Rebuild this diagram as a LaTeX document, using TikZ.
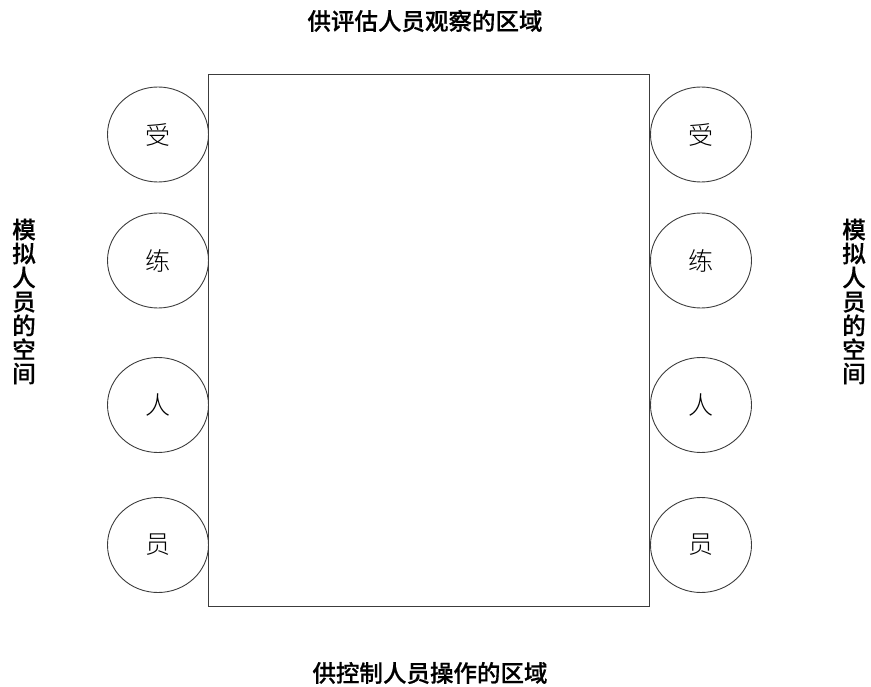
\documentclass[tikz,border=0pt]{standalone}
\usepackage{fontspec}
\newfontfamily\cjkm[FakeBold=0.5]{Noto Sans CJK SC Medium}
\newfontfamily\cjkl{Noto Sans CJK SC Light}
\usetikzlibrary{shapes.geometric}
\definecolor{linec}{RGB}{60,60,60}
\tikzset{
  seat/.style={ellipse, draw=linec, line width=0.9pt, minimum width=101pt, minimum height=95pt, inner sep=0pt, font=\cjkl\fontsize{25}{25}\selectfont},
  title/.style={font=\cjkm\fontsize{23.5}{24}\selectfont, inner sep=0pt},
  vtitle/.style={font=\cjkm\fontsize{23.5}{24}\selectfont, align=center, inner sep=0pt},
  table/.style={draw=linec, line width=0.9pt, minimum width=441pt, minimum height=532pt, inner sep=0pt}
}
\begin{document}
\begin{tikzpicture}[x=1pt,y=-1pt]
\useasboundingbox (0,0) rectangle (871,687);
\node[table] (tab) at (428.5,340) {};
\node[seat] (l1) at (158,134.5) {受};
\node[seat] (l2) at (158,260.5) {练};
\node[seat] (l3) at (158,405) {人};
\node[seat] (l4) at (158,545) {员};
\node[seat] (r1) at (701,134.5) {受};
\node[seat] (r2) at (701,260.5) {练};
\node[seat] (r3) at (701,405) {人};
\node[seat] (r4) at (701,545) {员};
\node[title] (top) at (425,21) {供评估人员观察的区域};
\node[title] (bot) at (430,673) {供控制人员操作的区域};
\node[vtitle] (lt) at (24,301.5) {模\\拟\\人\\员\\的\\空\\间};
\node[vtitle] (rt) at (854,301.5) {模\\拟\\人\\员\\的\\空\\间};
\end{tikzpicture}
\end{document}
